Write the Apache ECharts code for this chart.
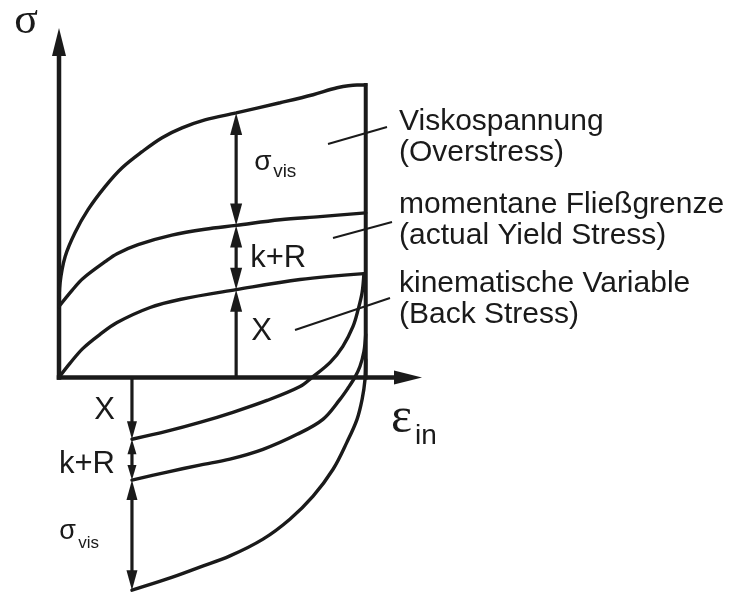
<!DOCTYPE html>
<html>
<head>
<meta charset="utf-8">
<script src="https://cdn.jsdelivr.net/npm/echarts@6.0.0/dist/echarts.min.js"></script>
<style>
  html, body { margin: 0; padding: 0; background: #fff; }
  #chart { width: 729px; height: 594px; }
</style>
</head>
<body>
<div id="chart"></div>
<script>
// Viscoplastic stress split: loading branch (top) and unloading branch (bottom).
// Units: x = inelastic strain, y = stress (arbitrary units).

// Loading branch curves [strain, stress]
const overstressLoading = [[0, 2.03], [0.03, 2.71], [0.17, 3.46], [0.44, 4.14], [0.80, 4.80], [1.27, 5.46],
  [1.74, 6.00], [2.29, 6.46], [2.84, 6.86], [3.39, 7.14], [4.02, 7.37], [4.88, 7.57], [6.09, 7.86],
  [7.00, 8.09], [7.66, 8.29], [8.21, 8.37], [8.45, 8.37]];
const yieldLoading = [[0, 2.03], [0.36, 2.49], [0.66, 2.83], [1.27, 3.31], [1.60, 3.54], [2.18, 3.80],
  [3.11, 4.07], [4.02, 4.24], [4.88, 4.35], [6.09, 4.51], [7.19, 4.60], [8.45, 4.71]];
const backStressLoading = [[0, 0], [0.30, 0.40], [0.66, 0.83], [1.13, 1.23], [1.60, 1.57], [2.51, 2.00],
  [3.33, 2.23], [4.88, 2.51], [6.64, 2.80], [8.40, 2.97]];

// Unloading branch curves [strain, stress]
const backStressUnloading = [[2.01, -1.77], [2.98, -1.54], [3.88, -1.29], [4.79, -1.00], [5.73, -0.66],
  [6.64, -0.26], [6.97, 0], [7.47, 0.43], [7.82, 0.89], [8.10, 1.46], [8.24, 1.94], [8.35, 2.43], [8.40, 2.97]];
const yieldUnloading = [[2.01, -2.94], [2.98, -2.71], [3.88, -2.51], [4.71, -2.34], [5.62, -2.06],
  [6.56, -1.63], [7.27, -1.20], [7.74, -0.63], [7.96, -0.31], [8.15, 0], [8.29, 0.31], [8.40, 0.74], [8.45, 1.23]];
const overstressUnloading = [[2.01, -6.09], [2.98, -5.77], [3.88, -5.43], [4.71, -5.11], [5.62, -4.63],
  [6.36, -4.06], [7.00, -3.40], [7.55, -2.63], [7.93, -1.86], [8.21, -1.20], [8.35, -0.63], [8.43, -0.06], [8.45, 0.51]];

// Strain at end of loading (vertical edge)
const endStrain = [[8.45, 0], [8.45, 8.37]];

// Stress split at a loading and an unloading strain: 0, X, X+(k+R), X+(k+R)+σvis
const loadingStrain = 4.88;
const loadingLevels = [0, 2.51, 4.35, 7.57];
const unloadingStrain = 2.01;
const unloadingLevels = [0, -1.77, -2.94, -6.09];
const partNames = ['X', 'k+R', 'σ_vis'];

// Coordinate axes [x0, y0, x1, y1]
const axisLines = [[0, 0, 0, 10], [0, 0, 10, 0]];

// Annotation texts
const annotations = [
  'Viskospannung\n(Overstress)',
  'momentane Fließgrenze\n(actual Yield Stress)',
  'kinematische Variable\n(Back Stress)'
];

const INK = '#1a1a1a';
const SANS = '"Liberation Sans", Arial, sans-serif';
const SERIF = '"Liberation Serif", "Times New Roman", serif';

function arrowShape(p0, p1, headStart, headEnd, L, W, lw, cap) {
  const dx = p1[0] - p0[0], dy = p1[1] - p0[1];
  const len = Math.hypot(dx, dy) || 1;
  const ux = dx / len, uy = dy / len, nx = -uy, ny = ux;
  const inset = L * 0.7;
  const s = headStart ? [p0[0] + ux * inset, p0[1] + uy * inset] : p0;
  const e = headEnd ? [p1[0] - ux * inset, p1[1] - uy * inset] : p1;
  const children = [{
    type: 'line',
    shape: { x1: s[0], y1: s[1], x2: e[0], y2: e[1] },
    style: { stroke: INK, lineWidth: lw, lineCap: cap || 'butt' }
  }];
  const head = (tip, sx, sy) => ({
    type: 'polygon',
    shape: { points: [
      [tip[0], tip[1]],
      [tip[0] - sx * L + nx * W / 2, tip[1] - sy * L + ny * W / 2],
      [tip[0] - sx * L - nx * W / 2, tip[1] - sy * L - ny * W / 2]
    ] },
    style: { fill: INK }
  });
  if (headEnd) children.push(head(p1, ux, uy));
  if (headStart) children.push(head(p0, -ux, -uy));
  return { type: 'group', children };
}

function splitLevels(strain, levels) {
  return partNames.map((n, i) => [strain, levels[i], levels[i + 1], i]);
}

function makePartRenderer(cfg) {
  return function (params, api) {
    const x = api.value(0), y0 = api.value(1), y1 = api.value(2), i = api.value(3);
    const p0 = api.coord([x, y0]), p1 = api.coord([x, y1]);
    const g = arrowShape(p0, p1, i > 0, true, cfg.headLen[i], cfg.headWidth[i], 3.2);
    const midY = (p0[1] + p1[1]) / 2;
    const parts = partNames[i].split('_');
    const lab = cfg.labels[i];
    g.children.push({
      type: 'text', x: p0[0] + lab.dx, y: midY + lab.dy,
      style: { text: parts[0], fill: INK, font: lab.size + 'px ' + SANS, align: cfg.align, verticalAlign: 'middle' }
    });
    if (parts[1]) {
      g.children.push({
        type: 'text', x: p0[0] + lab.subDx, y: midY + lab.subDy,
        style: { text: parts[1], fill: INK, font: lab.subSize + 'px ' + SANS, align: cfg.align, verticalAlign: 'middle' }
      });
    }
    return g;
  };
}

const loadingCfg = {
  align: 'left',
  headLen: [22, 22, 22], headWidth: [12, 12, 12],
  labels: [
    { dx: 15, dy: -2.5, size: 31 },
    { dx: 14, dy: 1, size: 31 },
    { dx: 18, dy: -7, size: 28, subDx: 37, subDy: 3, subSize: 19 }
  ]
};
const unloadingCfg = {
  align: 'right',
  headLen: [18, 15, 20], headWidth: [10, 9, 11],
  labels: [
    { dx: -17, dy: 2.5, size: 31 },
    { dx: -17, dy: 5, size: 31 },
    { dx: -56, dy: -3.5, size: 27, subDx: -33, subDy: 8, subSize: 17 }
  ]
};

function curve(data, width) {
  return {
    type: 'line', data, showSymbol: false, smooth: 0.35, silent: true,
    lineStyle: { color: INK, width: width || 3.4, cap: 'round' }
  };
}

const chart = echarts.init(document.getElementById('chart'), null, { renderer: 'canvas' });

chart.setOption({
  animation: false,
  backgroundColor: '#fff',
  grid: { left: 59, top: 28, width: 363, height: 567, containLabel: false },
  xAxis: { type: 'value', min: 0, max: 10, show: false },
  yAxis: { type: 'value', min: -6.2, max: 10, show: false },
  series: [
    curve(overstressLoading),
    curve(yieldLoading),
    curve(backStressLoading),
    curve(backStressUnloading),
    curve(yieldUnloading),
    curve(overstressUnloading),
    {
      type: 'line', data: endStrain, showSymbol: false, silent: true,
      lineStyle: { color: INK, width: 4, cap: 'square' }
    },
    {
      type: 'custom', silent: true,
      data: splitLevels(loadingStrain, loadingLevels),
      renderItem: makePartRenderer(loadingCfg)
    },
    {
      type: 'custom', silent: true,
      data: splitLevels(unloadingStrain, unloadingLevels),
      renderItem: makePartRenderer(unloadingCfg)
    },
    {
      type: 'custom', silent: true,
      data: axisLines,
      renderItem: function (params, api) {
        const p0 = api.coord([api.value(0), api.value(1)]);
        const p1 = api.coord([api.value(2), api.value(3)]);
        return arrowShape(p0, p1, false, true, 28, 14, 4.5, 'square');
      }
    }
  ],
  graphic: [
    { type: 'text', x: 26, y: 21, style: { text: 'σ', fill: INK, font: '44px ' + SERIF, align: 'center', verticalAlign: 'middle' } },
    { type: 'text', x: 391, y: 419, style: { text: 'ε', fill: INK, font: '50px ' + SERIF, align: 'left', verticalAlign: 'middle' } },
    { type: 'text', x: 415, y: 436, style: { text: 'in', fill: INK, font: '28px ' + SANS, align: 'left', verticalAlign: 'middle' } },
    { type: 'text', x: 399, y: 106, style: { text: annotations[0], fill: INK, font: '30px ' + SANS, lineHeight: 31, align: 'left', verticalAlign: 'top' } },
    { type: 'text', x: 399, y: 189, style: { text: annotations[1], fill: INK, font: '30px ' + SANS, lineHeight: 31, align: 'left', verticalAlign: 'top' } },
    { type: 'text', x: 399, y: 268, style: { text: annotations[2], fill: INK, font: '30px ' + SANS, lineHeight: 31, align: 'left', verticalAlign: 'top' } },
    { type: 'line', shape: { x1: 328, y1: 144, x2: 387, y2: 127 }, style: { stroke: INK, lineWidth: 2 } },
    { type: 'line', shape: { x1: 333, y1: 238, x2: 392, y2: 222 }, style: { stroke: INK, lineWidth: 2 } },
    { type: 'line', shape: { x1: 295, y1: 330, x2: 390, y2: 298 }, style: { stroke: INK, lineWidth: 2 } }
  ]
});
</script>
</body>
</html>
